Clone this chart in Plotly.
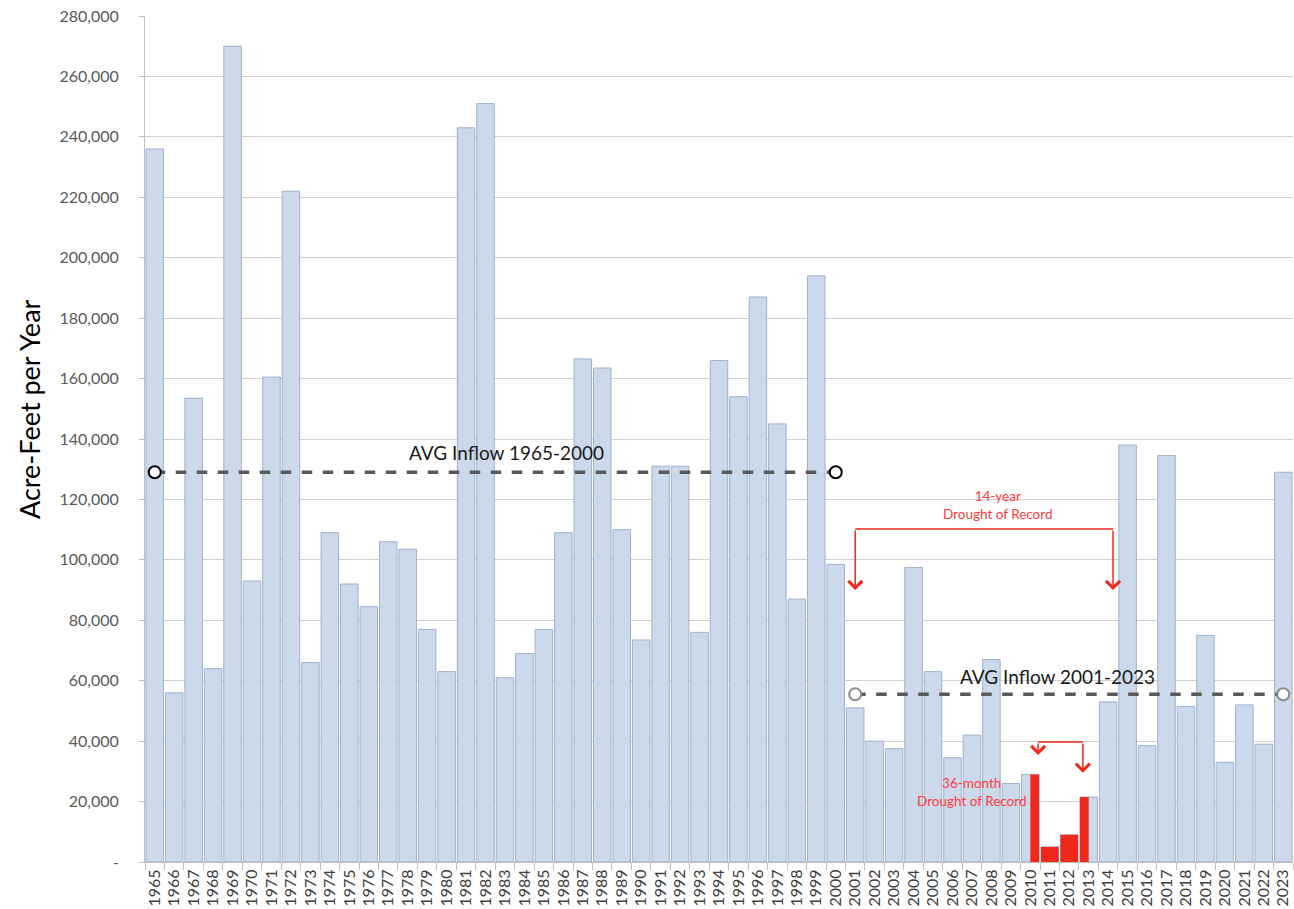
import plotly.graph_objects as go

years = [str(y) for y in range(1965, 2024)]
inflow = [236000, 56000, 153500, 64000, 270000, 93000, 160500, 222000, 66000, 109000,
          92000, 84500, 106000, 103500, 77000, 63000, 243000, 251000, 61000, 69000,
          77000, 109000, 166500, 163500, 110000, 73500, 131000, 131000, 76000, 166000,
          154000, 187000, 145000, 87000, 194000, 98500, 51000, 40000, 37500, 97500,
          63000, 34500, 42000, 67000, 26000, 29000, 5000, 9000, 21500, 53000,
          138000, 38500, 134500, 51500, 75000, 33000, 52000, 39000, 129000]

drought_years = ["2010", "2011", "2012", "2013"]
drought_vals = [29000, 5000, 9000, 21500]
drought_width = [0.45, 0.9, 0.9, 0.45]
drought_offset = [0.0, -0.45, -0.45, -0.45]

avg1_years = ["1965", "2000"]
avg1_val = 129000
avg2_years = ["2001", "2023"]
avg2_val = 55500

ytick_vals = list(range(0, 280001, 20000))
ytick_text = ["-"] + [f"{v:,}" for v in ytick_vals[1:]]

def idx(y):
    return y - 1965

fig = go.Figure()
fig.add_trace(go.Bar(x=years, y=inflow, marker=dict(color="#CCD9EA", line=dict(color="#9DB2CE", width=1)),
                     width=0.9, showlegend=False))
fig.add_trace(go.Bar(x=drought_years, y=drought_vals, width=drought_width, offset=drought_offset,
                     marker=dict(color="#F0281C", line=dict(width=0)), showlegend=False))
fig.add_trace(go.Scatter(x=avg1_years, y=[avg1_val] * 2, mode="lines+markers",
                         line=dict(color="#595959", width=3.5, dash="dash"),
                         marker=dict(symbol="circle", size=12, color="white", line=dict(color="#000000", width=2)),
                         showlegend=False))
fig.add_trace(go.Scatter(x=avg2_years, y=[avg2_val] * 2, mode="lines+markers",
                         line=dict(color="#595959", width=3.5, dash="dash"),
                         marker=dict(symbol="circle", size=12, color="white", line=dict(color="#8C8C8C", width=2)),
                         showlegend=False))

red = "#F0281C"
txtred = "#FF3A3A"
annots = [
    dict(x=idx(1983.1), y=135500, text="AVG Inflow 1965-2000", showarrow=False,
         font=dict(size=19, color="#1a1a1a", family="Lato")),
    dict(x=idx(2011.4), y=61300, text="AVG Inflow 2001-2023", showarrow=False,
         font=dict(size=19, color="#1a1a1a", family="Lato")),
    dict(x=idx(2008.3), y=118200, text="14-year<br>Drought of Record", showarrow=False,
         font=dict(size=13.5, color=txtred, family="Lato")),
    dict(x=idx(2007.0), y=23300, text="36-month<br>Drought of Record", showarrow=False,
         font=dict(size=13.5, color=txtred, family="Lato")),
    dict(xref="paper", yref="paper", x=(30 - 145) / 1148, y=(862 - 409) / 846, text="Acre-Feet per Year",
         textangle=-90, showarrow=False, xanchor="center", yanchor="middle",
         font=dict(size=27, color="#000000", family="Lato")),
]
# brackets: (x_left, x_right, y_top, tip_left, tip_right)
brackets = [(2001.0, 2014.25, 110200, 90000, 90000), (2010.4, 2012.7, 39700, 35400, 29500)]
shapes = []
for xl, xr, yt, tl, tr in brackets:
    shapes.append(dict(type="line", xref="x", yref="y", x0=idx(xl), x1=idx(xr), y0=yt, y1=yt,
                       line=dict(color=red, width=1.5)))
    for xx, tip in ((xl, tl), (xr, tr)):
        annots.append(dict(x=idx(xx), y=tip, ax=idx(xx), ay=yt, xref="x", yref="y", axref="x", ayref="y",
                           text="", showarrow=True, arrowhead=4, arrowsize=1.8, arrowwidth=1.5, arrowcolor=red))

fig.update_layout(
    width=1294, height=909,
    margin=dict(l=145, r=1, t=16, b=47),
    plot_bgcolor="white", paper_bgcolor="white",
    barmode="overlay", bargap=0.1,
    font=dict(family="Lato", color="#595959"),
    annotations=annots, shapes=shapes,
    xaxis=dict(type="category", tickangle=-90, tickfont=dict(size=16, color="#404040"),
               ticks="outside", tickson="boundaries", ticklen=7, tickcolor="#BFBFBF",
               ticklabelstandoff=0,
               showline=True, linecolor="#BFBFBF", showgrid=False, range=[-0.5, 58.5], automargin=False),
    yaxis=dict(range=[0, 280000], tickvals=ytick_vals, ticktext=ytick_text,
               tickfont=dict(size=16, color="#595959"), ticks="outside", ticklen=5, tickcolor="#BFBFBF",
               ticklabelstandoff=17,
               showline=True, linecolor="#BFBFBF", showgrid=True, gridcolor="#D0D0D0", zeroline=False,
               automargin=False),
)

fig.write_html("out.html", config={"displayModeBar": False},
               post_script="document.body.style.margin='0';document.body.style.overflow='hidden';")
